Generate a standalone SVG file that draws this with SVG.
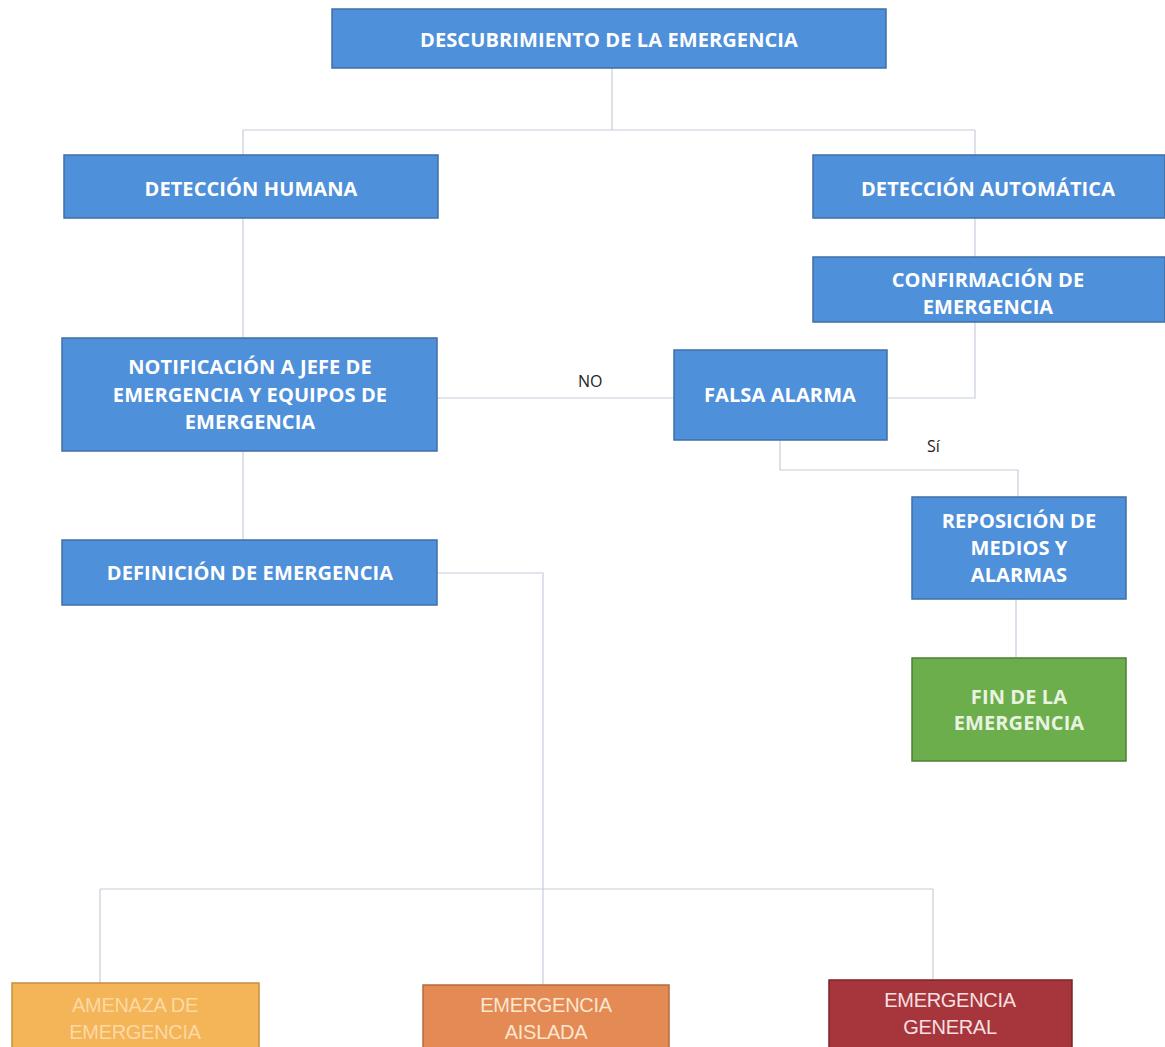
<svg xmlns="http://www.w3.org/2000/svg" width="1165" height="1047" viewBox="0 0 1165 1047">
<style>
.blue{fill:#4f90da;stroke:#3f6fa6;stroke-width:1.5}
.green{fill:#6cad4c;stroke:#4d7f37;stroke-width:1.5}
.amb{fill:#f4b458;stroke:#c98f3e;stroke-width:1.5}
.ais{fill:#e38a55;stroke:#b86a3c;stroke-width:1.5}
.gen{fill:#a6353c;stroke:#7a2429;stroke-width:1.5}
.t{font-family:"Open Sans","Liberation Sans",sans-serif;font-weight:bold;font-size:20px;fill:#ffffff;text-anchor:middle;letter-spacing:0.1px}
.tl{font-family:"Liberation Sans","Open Sans",sans-serif;font-size:20px;fill:#fbe6d0;text-anchor:middle;letter-spacing:-0.3px}
.lab{font-family:"Open Sans","Liberation Sans",sans-serif;font-size:16px;fill:#222}
.c{fill:none;stroke:#c6ceda;stroke-width:1.2}
</style>
<rect width="1165" height="1047" fill="#ffffff"/>
<g id="connectors">
<path class="c" d="M612 68V130M243 130H975M243 130V155M975 130V155"/>
<path class="c" d="M975 218V257M975 322V398H887"/>
<path class="c" d="M243 218V338M243 451V540"/>
<path class="c" d="M437 398H674"/>
<path class="c" d="M780 440V470H1018V497"/>
<path class="c" d="M1016 599V658"/>
<path class="c" d="M437 573H543V985M100 889H933M100 889V983M933 889V980"/>
</g>
<g id="n-descubrimiento"><rect class="blue" x="332" y="9" width="554" height="59"/><text class="t" x="609" y="47">DESCUBRIMIENTO DE LA EMERGENCIA</text></g>
<g id="n-humana"><rect class="blue" x="64" y="155" width="374" height="63"/><text class="t" x="251" y="196">DETECCIÓN HUMANA</text></g>
<g id="n-automatica"><rect class="blue" x="813" y="155" width="352" height="63"/><text class="t" x="988" y="196">DETECCIÓN AUTOMÁTICA</text></g>
<g id="n-confirmacion"><rect class="blue" x="813" y="257" width="352" height="65"/><text class="t" x="988" y="287">CONFIRMACIÓN DE</text><text class="t" x="988" y="314">EMERGENCIA</text></g>
<g id="n-notificacion"><rect class="blue" x="62" y="338" width="375" height="113"/><text class="t" x="250" y="374">NOTIFICACIÓN A JEFE DE</text><text class="t" x="250" y="402">EMERGENCIA Y EQUIPOS DE</text><text class="t" x="250" y="429">EMERGENCIA</text></g>
<g id="n-falsa"><rect class="blue" x="674" y="350" width="213" height="90"/><text class="t" x="780" y="402">FALSA ALARMA</text></g>
<text class="lab" x="578" y="387">NO</text>
<text class="lab" x="927" y="452">Sí</text>
<g id="n-definicion"><rect class="blue" x="62" y="540" width="375" height="65"/><text class="t" x="250" y="580">DEFINICIÓN DE EMERGENCIA</text></g>
<g id="n-reposicion"><rect class="blue" x="912" y="497" width="214" height="102"/><text class="t" x="1019" y="528">REPOSICIÓN DE</text><text class="t" x="1019" y="555">MEDIOS Y</text><text class="t" x="1019" y="582">ALARMAS</text></g>
<g id="n-fin"><rect class="green" x="912" y="658" width="214" height="103"/><text class="t" x="1019" y="704" style="fill:#e8f3e0">FIN DE LA</text><text class="t" x="1019" y="730" style="fill:#e8f3e0">EMERGENCIA</text></g>
<g id="n-amenaza"><rect class="amb" x="12" y="983" width="247" height="70"/><text class="tl" x="135" y="1012" style="fill:#fcd9a3">AMENAZA DE</text><text class="tl" x="135" y="1039" style="fill:#fcd9a3">EMERGENCIA</text></g>
<g id="n-aislada"><rect class="ais" x="423" y="985" width="246" height="70"/><text class="tl" x="546" y="1012">EMERGENCIA</text><text class="tl" x="546" y="1039">AISLADA</text></g>
<g id="n-general"><rect class="gen" x="829" y="980" width="243" height="72"/><text class="tl" x="950" y="1007" style="fill:#f6e0e0">EMERGENCIA</text><text class="tl" x="950" y="1034" style="fill:#f6e0e0">GENERAL</text></g>
</svg>
